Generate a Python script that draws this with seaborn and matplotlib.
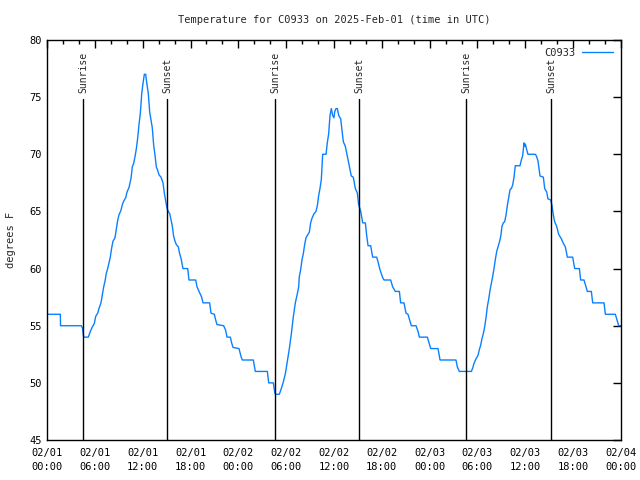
import numpy as np
import pandas as pd
import matplotlib
matplotlib.use("Agg")
import matplotlib.pyplot as plt
import seaborn as sns

# ── Data (hours since 2025-02-01 00:00 UTC, temperature in degrees F) ──
hours = [
    0.00, 1.67, 1.70, 4.30, 4.45, 4.60, 5.18, 5.44, 5.69, 5.94, 6.10, 6.36,
    6.52, 6.77, 6.94, 7.11, 7.28, 7.44, 7.61, 7.78, 7.94, 8.11, 8.28, 8.53,
    8.70, 8.86, 9.03, 9.28, 9.45, 9.62, 9.87, 10.04, 10.29, 10.54, 10.70,
    10.87, 11.04, 11.21, 11.37, 11.54, 11.71, 11.88, 12.04, 12.21, 12.38,
    12.54, 12.71, 12.88, 13.05, 13.21, 13.38, 13.55, 13.71, 13.88, 14.05,
    14.30, 14.55, 14.72, 14.89, 15.05, 15.22, 15.39, 15.55, 15.72, 15.89,
    16.06, 16.22, 16.47, 16.64, 16.81, 17.06, 17.65, 17.81, 18.65, 18.82,
    19.07, 19.40, 19.57, 20.40, 20.57, 20.99, 21.16, 21.32, 22.16, 22.41,
    22.58, 23.00, 23.16, 23.33, 24.08, 24.34, 24.50, 25.88, 26.13, 27.64,
    27.81, 28.39, 28.56, 28.64, 29.14, 29.39, 29.65, 29.90, 30.15, 30.40,
    30.65, 30.90, 31.15, 31.40, 31.57, 31.65, 31.82, 31.99, 32.15, 32.32,
    32.49, 32.74, 32.91, 33.07, 33.24, 33.49, 33.74, 33.91, 34.08, 34.24,
    34.41, 34.58, 35.00, 35.16, 35.33, 35.50, 35.67, 35.83, 36.00, 36.08,
    36.25, 36.42, 36.59, 36.84, 37.00, 37.17, 37.42, 37.59, 37.76, 37.92,
    38.17, 38.42, 38.68, 38.93, 39.09, 39.35, 39.60, 39.93, 40.10, 40.27,
    40.60, 40.85, 41.35, 41.52, 41.77, 42.11, 42.27, 43.11, 43.36, 43.69,
    44.20, 44.36, 44.78, 45.03, 45.28, 45.53, 45.70, 46.29, 46.54, 46.71,
    47.71, 47.88, 48.13, 49.05, 49.30, 51.30, 51.47, 51.72, 53.23, 53.40,
    53.56, 53.81, 54.06, 54.23, 54.40, 54.57, 54.73, 54.90, 55.07, 55.24,
    55.40, 55.57, 55.74, 55.90, 56.07, 56.24, 56.41, 56.57, 56.74, 56.91,
    57.07, 57.24, 57.41, 57.58, 57.74, 57.91, 58.08, 58.24, 58.41, 58.58,
    58.74, 59.33, 59.50, 59.67, 59.83, 59.92, 60.00, 60.17, 60.33, 61.26,
    61.42, 61.59, 61.84, 62.26, 62.43, 62.68, 62.84, 63.18, 63.35, 63.51,
    63.68, 63.93, 64.18, 64.52, 64.77, 65.02, 65.27, 65.94, 66.19, 66.78,
    66.94, 67.36, 67.61, 67.78, 68.28, 68.45, 69.87, 70.04, 71.29, 71.46,
    71.71, 72.00,
]
temps = [
    56.0, 56.0, 55.0, 55.0, 54.8, 54.0, 54.0, 54.5, 54.9, 55.2, 55.8, 56.1,
    56.5, 57.0, 57.7, 58.4, 58.9, 59.6, 60.0, 60.5, 61.0, 61.8, 62.4, 62.7,
    63.5, 64.2, 64.7, 65.1, 65.6, 65.9, 66.2, 66.7, 67.1, 67.9, 68.9,
    69.2, 69.8, 70.5, 71.4, 72.6, 73.6, 75.3, 76.2, 77.0, 77.0,
    76.1, 75.3, 73.7, 73.0, 72.3, 70.8, 69.9, 68.9, 68.6, 68.2,
    68.0, 67.5, 66.6, 65.9, 65.3, 65.0, 64.8, 64.3, 63.7, 62.8,
    62.4, 62.1, 61.9, 61.3, 60.9, 60.0, 60.0, 59.0, 59.0, 58.4,
    58.0, 57.5, 57.0, 57.0, 56.1, 56.0, 55.5, 55.1, 55.0, 54.6,
    54.0, 54.0, 53.5, 53.1, 53.0, 52.3, 52.0, 52.0, 51.0, 51.0,
    50.0, 50.0, 49.2, 49.0, 49.0, 49.5, 50.1, 50.8, 51.9, 53.0,
    54.3, 55.8, 57.0, 57.8, 58.4, 59.3, 59.9, 60.8, 61.3, 62.1,
    62.7, 63.0, 63.2, 64.0, 64.4, 64.8, 65.0, 65.5, 66.4, 67.0,
    67.8, 70.0, 70.0, 71.0, 71.8, 73.4, 74.0, 73.4, 73.2, 73.7,
    74.0, 74.0, 73.4, 73.1, 72.1, 71.1, 70.7, 70.1, 69.5, 68.9,
    68.1, 68.0, 67.0, 66.6, 65.6, 65.0, 64.0, 64.0, 62.9, 62.0,
    62.0, 61.0, 61.0, 60.6, 59.9, 59.2, 59.0, 59.0, 58.4, 58.0,
    58.0, 57.0, 57.0, 56.1, 56.0, 55.4, 55.0, 55.0, 54.5, 54.0,
    54.0, 53.6, 53.0, 53.0, 52.0, 52.0, 51.4, 51.0, 51.0, 51.3,
    51.7, 52.1, 52.4, 52.9, 53.3, 53.9, 54.3, 54.9, 55.7, 56.7,
    57.3, 58.1, 58.7, 59.3, 60.0, 60.8, 61.5, 61.9, 62.3, 62.8,
    63.7, 64.0, 64.1, 64.7, 65.5, 66.2, 66.9, 67.0, 67.3, 68.0,
    69.0, 69.0, 69.5, 69.9, 71.0, 70.7, 70.9, 70.4, 70.0, 70.0,
    69.8, 69.4, 68.1, 68.0, 67.0, 66.7, 66.1, 66.0, 65.5, 64.7,
    64.1, 63.7, 63.0, 62.6, 62.2, 61.9, 61.0, 61.0, 60.0, 60.0,
    59.0, 59.0, 58.4, 58.0, 58.0, 57.0, 57.0, 56.0, 56.0, 55.6,
    55.0, 55.0,
]

event_hours = [4.56, 15.09, 28.64, 39.18, 52.60, 63.26]
event_labels = ["Sunrise", "Sunset", "Sunrise", "Sunset", "Sunrise", "Sunset"]

xtick_hours = list(range(0, 73, 6))
xtick_labels = [
    "02/01\n00:00", "02/01\n06:00", "02/01\n12:00", "02/01\n18:00",
    "02/02\n00:00", "02/02\n06:00", "02/02\n12:00", "02/02\n18:00",
    "02/03\n00:00", "02/03\n06:00", "02/03\n12:00", "02/03\n18:00",
    "02/04\n00:00",
]
yticks = [45, 50, 55, 60, 65, 70, 75, 80]

station = "C0933"
line_color = "#0a80ff"

df = pd.DataFrame({"hour": hours, "temp": temps})

# ── Style ─────────────────────────────────────────────────────────
sns.set_style("white")
plt.rcParams["font.family"] = ["DejaVu Sans Mono", "DejaVu Sans"]
plt.rcParams["font.size"] = 7

fig = plt.figure(figsize=(6.4, 4.8), dpi=100)
ax = fig.add_axes([47 / 640, 40 / 480, 574 / 640, 400 / 480])

sns.lineplot(data=df, x="hour", y="temp", ax=ax, color=line_color,
             linewidth=1.0, label=station)

# sunrise / sunset markers
for h, lab in zip(event_hours, event_labels):
    ax.plot([h, h], [45, 74.85], color="black", linewidth=1.0)
    ax.text(h, 75.4, lab, rotation=90, ha="center", va="bottom",
            fontsize=7)

ax.set_xlim(0, 72)
ax.set_ylim(45, 80)
ax.set_xticks(xtick_hours)
ax.set_xticklabels(xtick_labels, linespacing=1.45)
ax.set_xticks(range(0, 73, 2), minor=True)
ax.set_yticks(yticks)
ax.tick_params(axis="both", which="both", direction="in", top=True,
               right=True, colors="black", labelsize=7.5, pad=4)
ax.tick_params(axis="x", which="major", pad=6)
ax.tick_params(axis="both", which="major", length=6, width=1)
ax.tick_params(axis="x", which="minor", length=3, width=1)
for sp in ax.spines.values():
    sp.set_color("black")
    sp.set_linewidth(1)

ax.set_xlabel("")
ax.set_ylabel("degrees F", fontsize=7.5, labelpad=9)
ax.set_title(f"Temperature for {station} on 2025-Feb-01 (time in UTC)",
             fontsize=7.5, pad=12)

leg = ax.legend(loc="upper right", frameon=False, markerfirst=False,
                handlelength=3.0, fontsize=7.5, borderaxespad=0.35,
                handletextpad=0.6)

fig.savefig("out.png", dpi=100)
